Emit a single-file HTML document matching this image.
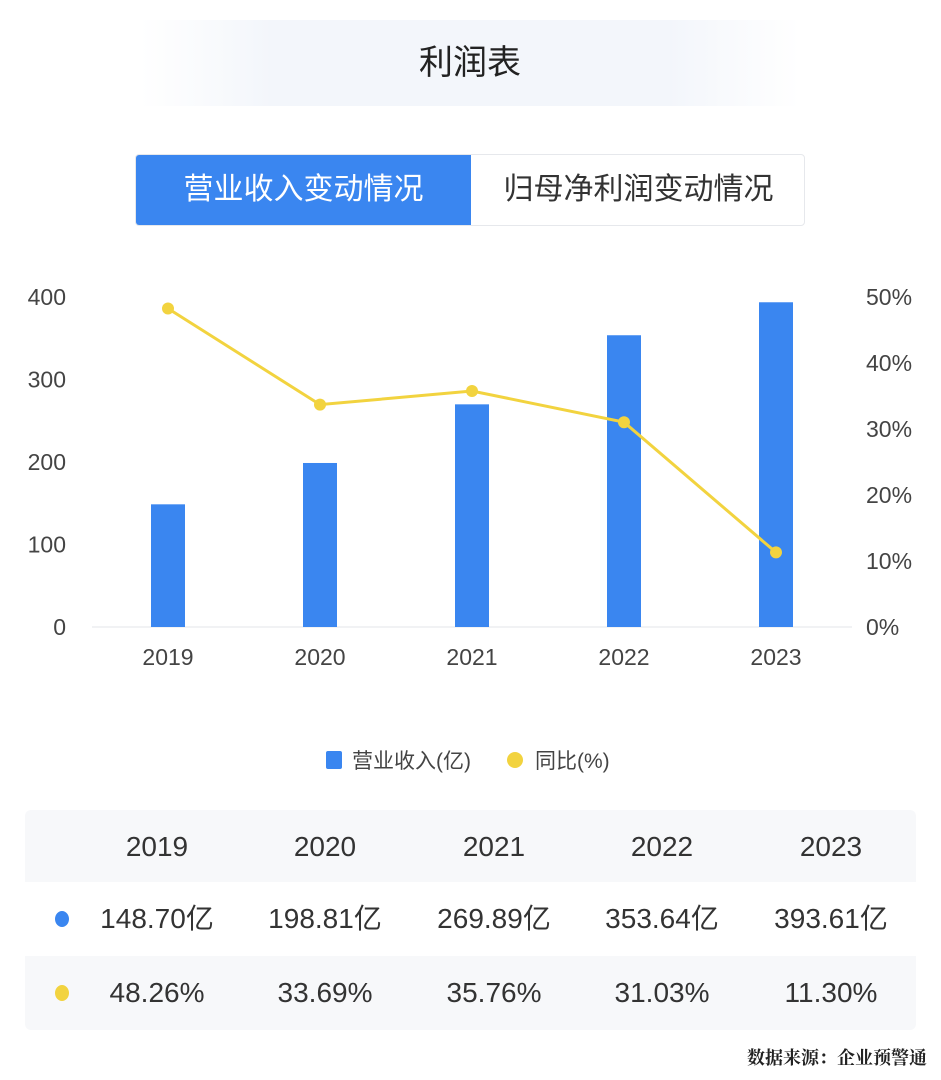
<!DOCTYPE html>
<html><head><meta charset="utf-8">
<style>
body{margin:0;width:941px;height:1080px;background:#fff;font-family:"Liberation Sans","Noto Sans CJK SC",sans-serif;position:relative;overflow:hidden;color:#333}
.abs{position:absolute}
#title{left:140px;top:20px;width:660px;height:86px;background:linear-gradient(90deg,#fff,#f3f6fb 20%,#f3f6fb 80%,#fff);text-align:center;line-height:86px;font-size:34px;color:#222}
#tabs{left:135px;top:154px;width:670px;height:72px;border:1px solid #e6e8ec;border-radius:4px;box-sizing:border-box;overflow:hidden}
.tab{position:absolute;top:0;height:72px;line-height:70px;text-align:center;font-size:30px}
#tbl{left:25px;top:810px;width:891px;height:220px;background:#f7f8fa;border-radius:6px}
.row{position:absolute;left:0;width:891px;height:74px}
.cell{position:absolute;width:160px;margin-left:-80px;text-align:center;font-size:28px;line-height:74px;color:#333}
.dot{position:absolute;left:30px;width:14px;height:16px;border-radius:50%;top:29px}
#src{right:14px;top:1044px;font-family:"Noto Serif CJK SC",serif;font-weight:bold;font-size:18px;color:#222}
</style></head><body>
<div id="title" class="abs">利润表</div>
<div id="tabs" class="abs">
<div class="tab" style="left:0;width:335px;background:#3a86f0;color:#fff">营业收入变动情况</div>
<div class="tab" style="left:335px;width:335px;color:#333">归母净利润变动情况</div>
</div>
<svg id="chart" class="abs" style="left:0;top:270px" width="941" height="520"></svg>
<div id="tbl" class="abs"></div>
<div id="src" class="abs">数据来源：企业预警通</div>
<script>
const years=["2019","2020","2021","2022","2023"];
const revenue=[148.70,198.81,269.89,353.64,393.61];
const growth=[48.26,33.69,35.76,31.03,11.30];
const leftTicks=[0,100,200,300,400];
const rightTicks=[0,10,20,30,40,50];
const revLabels=["148.70亿","198.81亿","269.89亿","353.64亿","393.61亿"];
const growLabels=["48.26%","33.69%","35.76%","31.03%","11.30%"];
const NS="http://www.w3.org/2000/svg";
const svg=document.getElementById('chart');
const L=92,R=852,T=27,B=357;
const band=(R-L)/years.length;
const x=i=>L+band*(i+0.5);
const yL=v=>B-(v/400)*(B-T);
const yR=v=>B-(v/50)*(B-T);
function mk(tag,a,p){const e=document.createElementNS(NS,tag);for(const k in a)e.setAttribute(k,a[k]);(p||svg).appendChild(e);return e;}
let ax=mk('line',{x1:L,x2:R,y1:B,y2:B,stroke:'#e3e5ea','stroke-width':1});


leftTicks.forEach(v=>{const t=mk('text',{x:66,y:yL(v)+8,'text-anchor':'end','font-size':23,fill:'#444'});t.textContent=v;

});
rightTicks.forEach(v=>{const t=mk('text',{x:866,y:yR(v)+8,'font-size':23,fill:'#444'});t.textContent=v+'%';

});
years.forEach((yr,i)=>{const t=mk('text',{x:x(i),y:B+38,'text-anchor':'middle','font-size':23,fill:'#444'});t.textContent=yr;

});
revenue.forEach((v,i)=>{const r=mk('rect',{x:x(i)-17,y:yL(v),width:34,height:B-yL(v),fill:'#3a86f0'});

});
const pl=mk('polyline',{points:growth.map((v,i)=>x(i)+','+yR(v)).join(' '),fill:'none',stroke:'#f2d33f','stroke-width':3});


growth.forEach((v,i)=>{const c=mk('circle',{cx:x(i),cy:yR(v),r:6,fill:'#f2d33f'});

});
const lg=mk('g',{});


mk('rect',{x:326,y:481,width:16,height:18,rx:2,fill:'#3a86f0'},lg);
let t1=mk('text',{x:352,y:498,'font-size':21,fill:'#444'},lg);t1.textContent='营业收入(亿)';
mk('circle',{cx:515,cy:490,r:8,fill:'#f2d33f'},lg);
let t2=mk('text',{x:535,y:498,'font-size':21,fill:'#444'},lg);t2.textContent='同比(%)';
const tbl=document.getElementById('tbl');
const cx=[132,300,469,637,806];
function row(top,bg,labels,dot,name){const r=document.createElement('div');r.className='row';r.style.top=top+'px';if(bg)r.style.background=bg;


if(dot){const d=document.createElement('div');d.className='dot';d.style.background=dot;r.appendChild(d);}
labels.forEach((s,i)=>{const c=document.createElement('div');c.className='cell';c.style.left=cx[i]+'px';c.textContent=s;

r.appendChild(c);});tbl.appendChild(r);}
row(0,null,years,null,'header-row');
row(72,'#fff',revLabels,'#3a86f0','revenue-row');
row(146,null,growLabels,'#f2d33f','growth-row');
</script>
</body></html>
